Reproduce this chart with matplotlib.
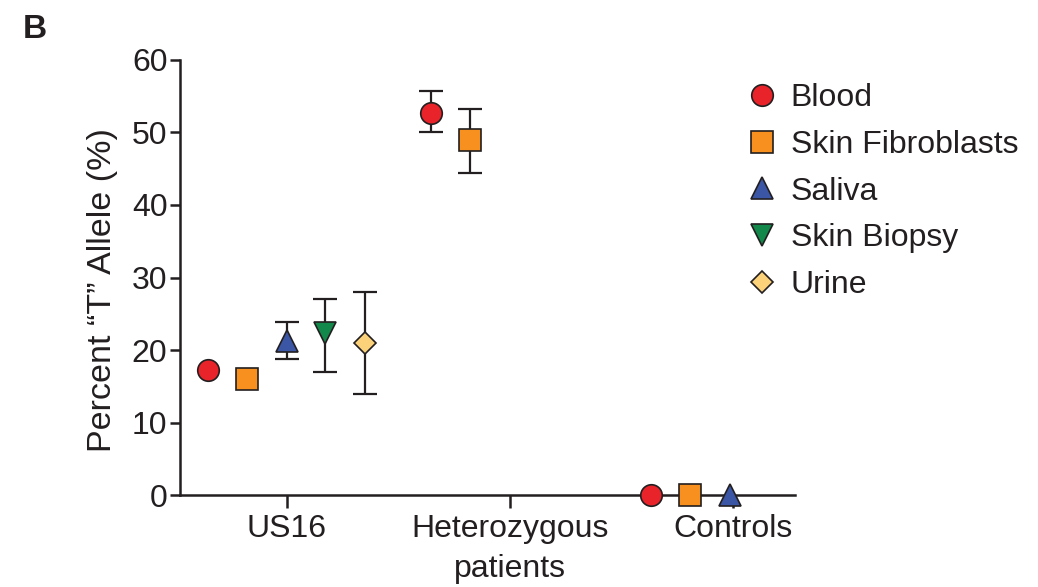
import matplotlib.pyplot as plt
import numpy as np

plt.rcParams['font.family'] = ['Liberation Sans', 'DejaVu Sans']

# Данные
groups = ["US16", "Heterozygous\npatients", "Controls"]
tissues = ["Blood", "Skin Fibroblasts", "Saliva", "Skin Biopsy", "Urine"]

# среднее, нижняя и верхняя граница ошибки (None = нет точки)
us16_mean = [17.3, 16.0, 21.2, 22.3, 21.0]
us16_low = [17.3, 16.0, 18.7, 17.0, 14.0]
us16_high = [17.3, 16.0, 23.9, 27.0, 28.0]

het_mean = [52.7, 48.9, None, None, None]
het_low = [50.0, 44.4, None, None, None]
het_high = [55.7, 53.3, None, None, None]

ctrl_mean = [0.0, 0.0, 0.0, None, None]

markers = ["o", "s", "^", "v", "D"]
colors = ["#E8232A", "#F7901E", "#3A56A5", "#12884A", "#FBD27A"]
sizes = [15.5, 16, 15.5, 15.5, 11]
offsets = [-0.355, -0.18, 0.0, 0.17, 0.35]

INK = "#231F20"

fig = plt.figure(figsize=(10.38, 5.87), dpi=100)
ax = fig.add_axes([0.1734, 0.1567, 0.5925, 0.7411])

err_style = dict(fmt="none", ecolor=INK, elinewidth=1.6, capsize=8.5,
                 capthick=1.6, zorder=3)

handles = []
for i, t in enumerate(tissues):
    style = dict(marker=markers[i], color=colors[i], markersize=sizes[i],
                 markeredgecolor=INK, markeredgewidth=1.2,
                 linestyle="none", zorder=5, clip_on=False)
    # US16
    m, lo, hi = us16_mean[i], us16_low[i], us16_high[i]
    if hi - lo > 0:
        ax.errorbar(0 + offsets[i], m, yerr=[[m - lo], [hi - m]], **err_style)
    h, = ax.plot(0 + offsets[i], m, **style)
    handles.append(h)
    # Гетерозиготные пациенты
    if het_mean[i] is not None:
        m, lo, hi = het_mean[i], het_low[i], het_high[i]
        ax.errorbar(1 + offsets[i], m, yerr=[[m - lo], [hi - m]], **err_style)
        ax.plot(1 + offsets[i], m, **style)
    # Контроли
    if ctrl_mean[i] is not None:
        ax.plot(2 + offsets[i] - 0.01, ctrl_mean[i], **style)

ax.set_xlim(-0.48, 2.28)
ax.set_ylim(0, 60)
ax.set_yticks(np.arange(0, 61, 10))
ax.set_xticks(range(len(groups)))
ax.set_xticklabels(groups, fontsize=23, linespacing=1.4)
ax.tick_params(axis="y", labelsize=23, width=1.8, length=7, color=INK,
               labelcolor=INK, pad=2)
ax.tick_params(axis="x", width=1.8, length=9, color=INK,
               labelcolor=INK, pad=5)

for spine in ['top', 'right']:
    ax.spines[spine].set_visible(False)
for spine in ['left', 'bottom']:
    ax.spines[spine].set_linewidth(1.8)
    ax.spines[spine].set_color(INK)

ax.set_ylabel("Percent \u201cT\u201d Allele (%)", fontsize=24.5, color=INK,
              labelpad=8)
ax.yaxis.set_label_coords(-0.10, 0.47)

leg = ax.legend(handles, tissues, loc="upper left", bbox_to_anchor=(0.7187, 0.858),
                bbox_transform=fig.transFigure, frameon=False, fontsize=23,
                handletextpad=0.4, labelspacing=0.52, handlelength=1.0,
                borderpad=0, borderaxespad=0, markerscale=1.0)
for txt in leg.get_texts():
    txt.set_color(INK)

fig.text(0.022, 0.949, "B", fontsize=24, fontweight="bold", va="center",
         color=INK)

plt.savefig("out.png", dpi=100)
